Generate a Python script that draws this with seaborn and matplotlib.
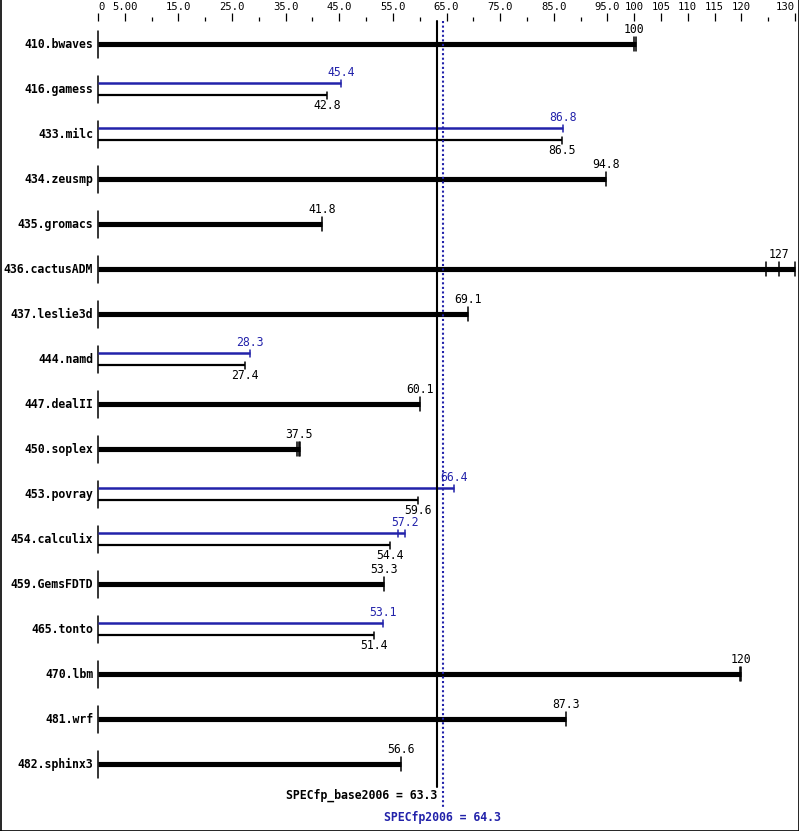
import matplotlib
matplotlib.use("Agg")
import matplotlib.pyplot as plt
import seaborn as sns
import pandas as pd
import numpy as np

benchmarks = ["410.bwaves", "416.gamess", "433.milc", "434.zeusmp", "435.gromacs",
              "436.cactusADM", "437.leslie3d", "444.namd", "447.dealII", "450.soplex",
              "453.povray", "454.calculix", "459.GemsFDTD", "465.tonto", "470.lbm",
              "481.wrf", "482.sphinx3"]
base = [100, 42.8, 86.5, 94.8, 41.8, 127, 69.1, 27.4, 60.1, 37.5,
        59.6, 54.4, 53.3, 51.4, 120, 87.3, 56.6]
peak = [None, 45.4, 86.8, None, None, None, None, 28.3, None, None,
        66.4, 57.2, None, 53.1, None, None, None]
# additional run markers (individual runs)
extra_runs = {"410.bwaves": [100.3], "436.cactusADM": [124.6, 130.0],
              "450.soplex": [37.1, 37.7], "470.lbm": [119.8]}
extra_runs_peak = {"454.calculix": [56.0]}
base_mean = 63.3
peak_mean = 64.3
major_ticks = [0, 5, 15, 25, 35, 45, 55, 65, 75, 85, 95, 100, 105, 110, 115, 120, 130]
major_labels = ["0", "5.00", "15.0", "25.0", "35.0", "45.0", "55.0", "65.0", "75.0",
                "85.0", "95.0", "100", "105", "110", "115", "120", "130"]
minor_ticks = [10, 20, 30, 40, 50, 60, 70, 80, 90, 125]

df = pd.DataFrame({"benchmark": benchmarks, "base": base, "peak": peak})

sns.set_style("white")
plt.rcParams["font.family"] = ["DejaVu Sans Mono"]
plt.rcParams["text.color"] = "black"
plt.rcParams["xtick.color"] = "black"
plt.rcParams["xtick.labelcolor"] = "black"

W, H = 799, 831
fig = plt.figure(figsize=(W / 100, H / 100), dpi=100)
top_px = 21
ax = fig.add_axes([98 / W, 0, 697 / W, 1 - top_px / H])
ROWPX = 45.0
ax.set_xlim(0, 130)
ax.set_ylim((H - 44) / ROWPX, (top_px - 44) / ROWPX)
for s in ax.spines.values():
    s.set_visible(False)
ax.set_facecolor("none")

BLUE = "#2222AA"
px = 1 / ROWPX
fs = 8.3

ax.xaxis.set_ticks_position("top")
ax.set_xticks(major_ticks)
ax.set_xticklabels(major_labels, fontsize=7.6, color="black")
ax.set_xticks(minor_ticks, minor=True)
ax.tick_params(axis="x", which="major", direction="out", length=5.5, width=0.9, pad=0.8, color="black")
ax.tick_params(axis="x", which="minor", direction="out", length=3.0, width=0.9, color="black")
tl = ax.get_xticklabels()
tl[0].set_ha("left")
tl[-1].set_ha("right")
ax.set_yticks([])
ax.set_xlabel("")
ax.set_ylabel("")

for i, row in df.iterrows():
    name = row["benchmark"]
    ax.text(-0.9, i, name, ha="right", va="center", fontsize=fs, fontweight="bold",
            color="black", clip_on=False)
    ax.plot([0, 0], [i - 13.5 * px, i + 13.5 * px], color="black", lw=1.1, clip_on=False)
    b = row["base"]
    p = row["peak"]
    if p is None or (isinstance(p, float) and np.isnan(p)):
        runs = [b] + extra_runs.get(name, [])
        ax.plot([0, max(runs)], [i, i], color="black", lw=3.7, solid_capstyle="butt", clip_on=False)
        for xv in runs:
            ax.plot([xv, xv], [i - 7 * px, i + 7 * px], color="black", lw=1.1, clip_on=False)
        ax.text(b, i - 8 * px, f"{b:g}", ha="center", va="bottom", fontsize=fs,
                color="black", clip_on=False)
    else:
        yb = i + 6 * px
        yp = i - 6 * px
        ax.plot([0, p], [yp, yp], color=BLUE, lw=1.8, solid_capstyle="butt", clip_on=False)
        for xv in [p] + extra_runs_peak.get(name, []):
            ax.plot([xv, xv], [yp - 3.5 * px, yp + 3.5 * px], color=BLUE, lw=1.1, clip_on=False)
        ax.text(p, yp - 4 * px, f"{p:g}", ha="center", va="bottom", fontsize=fs, color=BLUE, clip_on=False)
        ax.plot([0, b], [yb, yb], color="black", lw=1.6, solid_capstyle="butt", clip_on=False)
        ax.plot([b, b], [yb - 3.5 * px, yb + 3.5 * px], color="black", lw=1.1, clip_on=False)
        ax.text(b, yb + 4 * px, f"{b:g}", ha="center", va="top", fontsize=fs,
                color="black", clip_on=False)

ytop = (top_px - 44) / ROWPX
ax.plot([base_mean, base_mean], [ytop, (787 - 44) / ROWPX], color="black", lw=1.5, clip_on=False)
ax.plot([peak_mean, peak_mean], [ytop, (807 - 44) / ROWPX], color=BLUE, lw=1.5,
        linestyle=(0, (1, 1.2)), clip_on=False)
ax.text(base_mean, (795 - 44) / ROWPX, f"SPECfp_base2006 = {base_mean:g}", ha="right", va="center",
        fontsize=fs, fontweight="bold", color="black", clip_on=False)
ax.text(peak_mean, (817 - 44) / ROWPX, f"SPECfp2006 = {peak_mean:g}", ha="center", va="center",
        fontsize=fs, fontweight="bold", color=BLUE, clip_on=False)

# outer frame (left, right, bottom)
fig.add_artist(plt.Line2D([0.5 / W, 0.5 / W], [0, 1], color="black", lw=1.2, transform=fig.transFigure))
fig.add_artist(plt.Line2D([1 - 0.5 / W, 1 - 0.5 / W], [0, 1], color="black", lw=1.2, transform=fig.transFigure))
fig.add_artist(plt.Line2D([0, 1], [0.5 / H, 0.5 / H], color="black", lw=1.2, transform=fig.transFigure))

fig.savefig("out.png", dpi=100, facecolor="white")
